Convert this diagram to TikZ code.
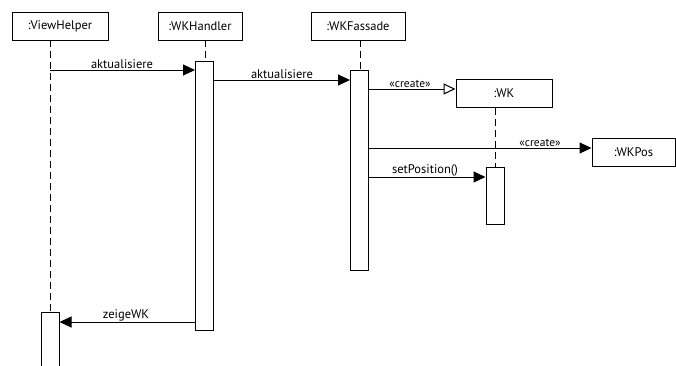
\documentclass[tikz,border=0pt]{standalone}
\usepackage{fontspec}
\setmainfont{PT Sans}
\usetikzlibrary{arrows.meta}
\begin{document}
\begin{tikzpicture}[x=1pt,y=-1pt,
  font=\fontsize{12.5}{14}\selectfont,
  obj/.style={draw,line width=1pt,minimum height=28pt,inner sep=0pt},
  actbox/.style={draw,fill=white,line width=1pt,inner sep=0pt,minimum width=18pt},
  lifeline/.style={line width=1pt,dash pattern=on 7pt off 4pt},
  msg/.style={line width=1pt,-{Triangle[length=12pt,width=11pt]}},
  createmsg/.style={line width=1pt,-{Triangle[open,length=12pt,width=11pt]}},
  lbl/.style={anchor=south,inner sep=1pt}]
\useasboundingbox (0,0) rectangle (676,365);

% object heads
\node[obj,minimum width=96pt] (vh)  at (60,26)    {:ViewHelper};
\node[obj,minimum width=84pt] (wkh) at (200,26)   {:WKHandler};
\node[obj,minimum width=94pt] (wkf) at (358,26)   {:WKFassade};
\node[obj,minimum width=96pt] (wk)  at (504,93.5) {:WK};
\node[obj,minimum width=83pt] (wkp) at (633.5,152){:WKPos};

% lifeline end points
\coordinate (vhtop)  at (50,40);
\coordinate (vhbot)  at (50,312);
\coordinate (wkhtop) at (205,40);
\coordinate (wkftop) at (360,40);
\coordinate (wktop)  at (495,108);

\draw[lifeline] (vhtop) -- (vhbot);
\draw[lifeline] (wkhtop) -- (205,61);
\draw[lifeline] (wkftop) -- (360,70);
\draw[lifeline] (wktop) -- (495,167);

% activation bars
\node[actbox,anchor=north,minimum height=269pt] (a1) at (204.5,61) {};
\node[actbox,anchor=north,minimum height=200pt] (a2) at (359.5,70) {};
\node[actbox,anchor=north,minimum height=57pt]  (a3) at (495,167) {};
\node[actbox,anchor=north,minimum height=60pt]  (a4) at (50,312) {};

% messages
\coordinate (m1s) at (50,70);
\draw[msg] (m1s) -- (a1.west |- m1s);
\node[lbl] at (122,70) {aktualisiere};

\coordinate (m2s) at (a1.east |- 0,80);
\draw[msg] (m2s) -- (a2.west |- m2s);
\node[lbl] at (282,80) {aktualisiere};

\coordinate (m3s) at (a2.east |- 0,89);
\draw[createmsg] (m3s) -- (wk.west |- m3s);
\node[lbl,font=\fontsize{11.5}{13}\selectfont] at (410,89) {«create»};

\coordinate (m4s) at (a2.east |- 0,148);
\draw[msg] (m4s) -- (wkp.west |- m4s);
\node[lbl,font=\fontsize{11.5}{13}\selectfont] at (540,148) {«create»};

\coordinate (m5s) at (a2.east |- 0,177);
\draw[msg] (m5s) -- (a3.west |- m5s);
\node[lbl] at (425,177) {setPosition()};

\coordinate (m6s) at (a1.west |- 0,322);
\draw[msg] (m6s) -- (a4.east |- m6s);
\node[lbl] at (126,322) {zeigeWK};
\end{tikzpicture}
\end{document}
